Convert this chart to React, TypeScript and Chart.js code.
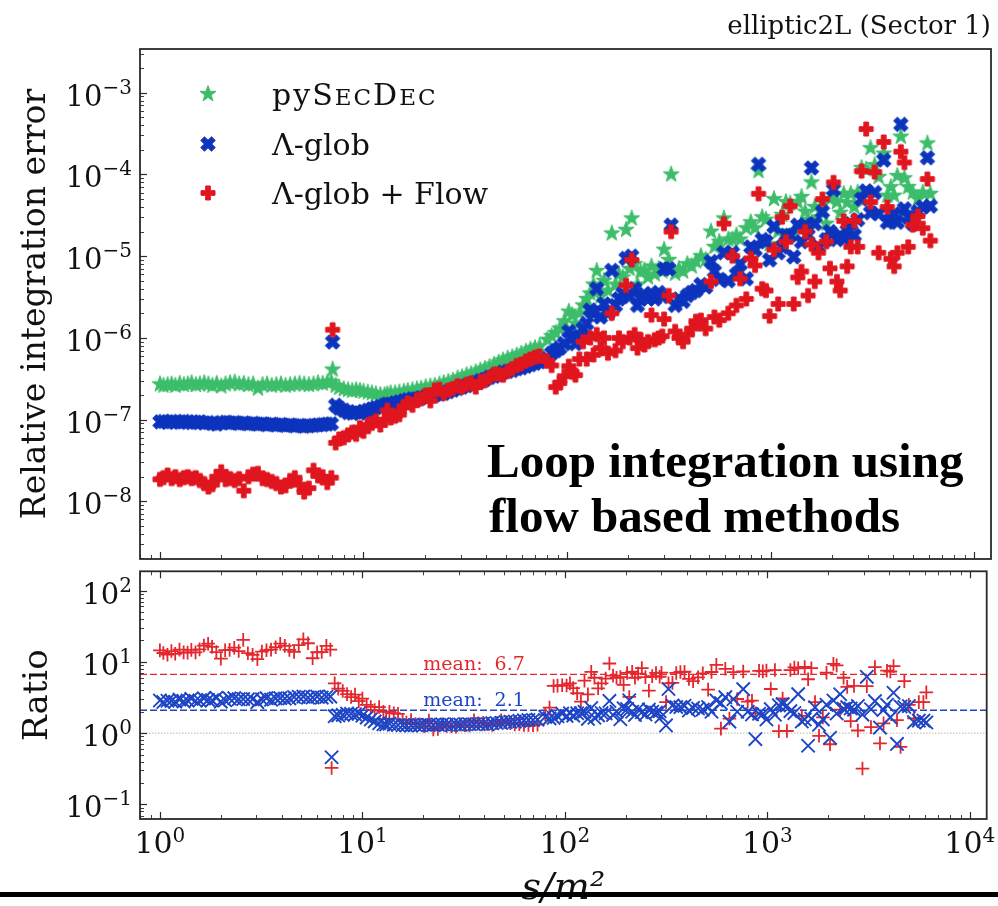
import React, { useEffect, useRef } from 'react';
import { Chart, registerables } from 'chart.js';

Chart.register(...registerables);

// Kinematic points s/m^2
const sValues = [
  1.00, 1.04, 1.09, 1.14, 1.19, 1.25, 1.31, 1.37, 1.43, 1.50, 1.57, 1.65, 1.73, 1.81, 1.90, 2.00, 2.10, 2.21, 2.33, 2.45,
  2.58, 2.72, 2.87, 3.03, 3.19, 3.36, 3.54, 3.73, 3.93, 4.14, 4.36, 4.60, 4.85, 5.11, 5.39, 5.68, 5.98, 6.30, 6.64, 6.95,
  7.05,
  7.30, 7.60, 8.00, 8.40, 8.80, 9.20, 9.60, 10.0, 10.5, 11.0, 11.5, 12.1, 12.7, 13.1, 13.6, 14.3, 15.0, 15.8,
  16.5, 17.4, 18.3, 19.2, 20.2, 21.3, 22.4, 23.6, 24.8, 26.1, 27.5, 29.0, 30.5, 32.1, 33.8, 35.6, 37.5, 39.5, 41.6, 43.8,
  46.1, 48.5, 51.1, 53.8, 56.6, 59.6, 62.8, 66.1, 69.6, 73.3,
  80, 84, 88, 92, 97, 102, 106, 110, 115, 120, 125, 130, 135, 140, 146, 152, 159, 166, 173, 180,
  188, 195, 203, 208, 215, 222, 230, 240, 250, 260, 270, 282, 294, 300, 316, 325,
  340, 355, 372, 390, 410, 430, 455, 480, 510, 530, 560, 590, 620, 650, 680, 710, 760, 800, 840, 873,
  910, 950, 990, 1040, 1090, 1140, 1190, 1250, 1300, 1360, 1420, 1480, 1530, 1590, 1650, 1720, 1800, 1880, 1960, 2040,
  2120, 2200, 2290, 2380, 2480, 2580, 2680, 2800, 2950, 3100, 3250, 3400, 3600, 3750, 3900, 4050, 4200, 4370, 4550, 4750,
  5000, 5300, 5600, 5900, 6100,
];

// Relative integration error, pySecDec
const errPySecDec = [
  2.70e-7, 2.60e-7, 2.65e-7, 2.70e-7, 2.60e-7, 2.75e-7, 2.65e-7, 2.70e-7, 2.80e-7, 2.65e-7, 2.70e-7, 2.80e-7, 2.70e-7, 2.60e-7, 2.75e-7, 2.55e-7, 2.70e-7, 2.80e-7, 2.85e-7, 2.70e-7,
  2.75e-7, 2.65e-7, 2.70e-7, 2.40e-7, 2.65e-7, 2.70e-7, 2.60e-7, 2.65e-7, 2.70e-7, 2.60e-7, 2.65e-7, 2.70e-7, 2.75e-7, 2.70e-7, 2.65e-7, 2.70e-7, 2.80e-7, 2.75e-7, 2.85e-7, 2.90e-7,
  4.1e-7,
  2.60e-7, 2.45e-7, 2.35e-7, 2.30e-7, 2.25e-7, 2.30e-7, 2.25e-7, 2.20e-7, 2.15e-7, 2.10e-7, 2.05e-7, 2.00e-7, 2.00e-7, 2.05e-7, 2.10e-7, 2.10e-7, 2.15e-7, 2.20e-7,
  2.25e-7, 2.30e-7, 2.35e-7, 2.40e-7, 2.50e-7, 2.55e-7, 2.60e-7, 2.70e-7, 2.80e-7, 2.90e-7, 3.00e-7, 3.20e-7, 3.30e-7, 3.50e-7, 3.60e-7, 3.80e-7, 4.00e-7, 4.20e-7, 4.40e-7, 4.70e-7,
  5.00e-7, 5.30e-7, 5.60e-7, 5.80e-7, 6.10e-7, 6.40e-7, 6.80e-7, 7.20e-7, 7.50e-7, 7.90e-7,
  9.5e-7, 1.05e-6, 1.15e-6, 1.3e-6, 1.6e-6, 2.1e-6, 1.9e-6, 1.5e-6, 2.0e-6, 2.5e-6, 3.0e-6, 3.5e-6, 4.5e-6, 6.6e-6, 3.2e-6, 5.0e-6, 3.8e-6, 1.9e-5, 4.5e-6, 6.0e-6,
  5.5e-6, 2.1e-5, 7.0e-6, 2.9e-5, 8.0e-6, 4.5e-6, 6.5e-6, 6.7e-6, 5.5e-6, 7.5e-6, 6.0e-6, 7.0e-6, 6.5e-6, 1.2e-5, 9.0e-6, 1.0e-4,
  6.1e-6, 7.0e-6, 6.5e-6, 8.0e-6, 7.5e-6, 8.6e-6, 1.0e-5, 9.0e-6, 2.0e-5, 1.3e-5, 1.5e-5, 2.9e-5, 1.6e-5, 1.6e-5, 1.8e-5, 1.6e-5, 2.2e-5, 2.6e-5, 2.2e-5, 1.1e-4,
  3.0e-5, 2.8e-5, 1.4e-5, 5.0e-5, 2.0e-5, 3.2e-5, 4.6e-5, 4.4e-5, 2.0e-5, 4.6e-5, 5.3e-5, 3.5e-5, 2.8e-5, 8.0e-5, 4.0e-5, 3.0e-5, 4.6e-5, 2.5e-5, 5.0e-5, 5.6e-5,
  4.6e-5, 3.4e-5, 5.8e-5, 4.5e-5, 5.8e-5, 4.0e-5, 6.0e-5, 1.2e-4, 1.15e-4, 2.1e-4, 1.3e-4, 9.3e-5, 1.8e-4, 5.5e-5, 7.0e-5, 5.5e-5, 9.6e-5, 2.9e-4, 9.0e-5, 7.0e-5,
  6.0e-5, 5.0e-5, 6.0e-5, 2.4e-4, 5.8e-5,
];

// Relative integration error, Λ-glob
const errGlob = [
  9.4e-8, 9.5e-8, 9.3e-8, 9.5e-8, 9.4e-8, 9.3e-8, 9.5e-8, 9.4e-8, 9.2e-8, 9.3e-8, 9.4e-8, 9.1e-8, 9.2e-8, 9.0e-8, 8.8e-8, 9.2e-8, 9.3e-8, 9.1e-8, 9.2e-8, 9.0e-8,
  9.1e-8, 8.9e-8, 9.0e-8, 8.8e-8, 8.9e-8, 8.7e-8, 8.8e-8, 8.6e-8, 8.7e-8, 8.5e-8, 8.6e-8, 8.4e-8, 8.5e-8, 8.3e-8, 8.4e-8, 8.5e-8, 8.6e-8, 8.7e-8, 8.8e-8, 8.9e-8,
  8.9e-7,
  1.50e-7, 1.38e-7, 1.30e-7, 1.22e-7, 1.20e-7, 1.25e-7, 1.20e-7, 1.25e-7, 1.30e-7, 1.35e-7, 1.40e-7, 1.45e-7, 1.50e-7, 1.55e-7, 1.55e-7, 1.60e-7, 1.65e-7, 1.70e-7,
  1.75e-7, 1.80e-7, 1.80e-7, 1.85e-7, 1.90e-7, 1.95e-7, 2.00e-7, 2.05e-7, 2.10e-7, 2.20e-7, 2.30e-7, 2.40e-7, 2.50e-7, 2.60e-7, 2.70e-7, 2.85e-7, 3.00e-7, 3.10e-7, 3.30e-7, 3.40e-7,
  3.60e-7, 3.80e-7, 3.90e-7, 4.00e-7, 4.20e-7, 4.30e-7, 4.50e-7, 4.70e-7, 4.90e-7, 5.10e-7,
  5.6e-7, 6.5e-7, 7.0e-7, 7.5e-7, 8.5e-7, 1.2e-6, 1.0e-6, 8.5e-7, 1.05e-6, 1.3e-6, 1.5e-6, 2.2e-6, 2.0e-6, 4.0e-6, 1.8e-6, 2.6e-6, 2.0e-6, 6.7e-6, 2.5e-6, 3.0e-6,
  3.5e-6, 9.4e-6, 3.2e-6, 1.0e-5, 4.0e-6, 2.5e-6, 3.0e-6, 3.4e-6, 3.0e-6, 3.5e-6, 3.0e-6, 3.6e-6, 3.2e-6, 7.0e-6, 7.0e-6, 2.4e-5,
  2.5e-6, 3.0e-6, 2.8e-6, 3.3e-6, 3.6e-6, 3.8e-6, 4.5e-6, 4.2e-6, 8.6e-6, 6.5e-6, 5.2e-6, 1.1e-5, 5.0e-6, 1.1e-5, 6.0e-6, 8.0e-6, 5.3e-6, 1.3e-5, 1.2e-5, 1.33e-4,
  1.6e-5, 1.5e-5, 9.0e-6, 2.3e-5, 1.1e-5, 1.3e-5, 1.8e-5, 1.8e-5, 9.8e-6, 2.4e-5, 1.5e-5, 2.4e-5, 1.8e-5, 1.2e-4, 2.5e-5, 1.3e-5, 3.5e-5, 1.6e-5, 2.0e-5, 6.5e-5,
  1.6e-5, 1.8e-5, 1.65e-5, 2.05e-5, 2.5e-5, 1.8e-5, 2.8e-5, 5.0e-5, 6.3e-5, 3.4e-5, 6.0e-5, 3.3e-5, 1.5e-4, 2.6e-5, 2.8e-5, 3.3e-5, 2.6e-5, 4.1e-4, 3.8e-5, 3.0e-5,
  2.5e-5, 3.5e-5, 4.0e-5, 1.6e-4, 4.1e-5,
];

// Relative integration error, Λ-glob + Flow
const errGlobFlow = [
  1.86e-8, 1.95e-8, 2.10e-8, 1.90e-8, 2.00e-8, 1.85e-8, 1.95e-8, 2.00e-8, 1.90e-8, 1.95e-8, 1.80e-8, 1.65e-8, 1.50e-8, 1.60e-8, 2.00e-8, 2.30e-8, 1.85e-8, 1.90e-8, 1.80e-8, 1.90e-8,
  1.35e-8, 2.00e-8, 2.15e-8, 2.20e-8, 1.90e-8, 1.85e-8, 1.75e-8, 1.65e-8, 1.50e-8, 1.55e-8, 1.80e-8, 1.95e-8, 1.60e-8, 1.30e-8, 1.45e-8, 2.40e-8, 2.05e-8, 2.00e-8, 1.70e-8, 1.95e-8,
  1.26e-6,
  5.2e-8, 5.8e-8, 6.0e-8, 6.5e-8, 7.0e-8, 6.6e-8, 8.0e-8, 7.2e-8, 8.6e-8, 9.0e-8, 9.7e-8, 8.6e-8, 1.00e-7, 1.30e-7, 1.05e-7, 1.10e-7, 1.15e-7, 1.45e-7,
  1.60e-7, 1.50e-7, 1.75e-7, 1.80e-7, 2.00e-7, 1.70e-7, 2.30e-7, 2.35e-7, 2.10e-7, 2.30e-7, 2.40e-7, 2.60e-7, 2.50e-7, 2.70e-7, 2.80e-7, 2.50e-7, 2.90e-7, 3.00e-7, 3.30e-7, 3.60e-7,
  3.60e-7, 3.50e-7, 3.90e-7, 4.20e-7, 4.60e-7, 4.80e-7, 5.20e-7, 5.50e-7, 5.80e-7, 6.00e-7,
  5.2e-7, 4.6e-7, 2.5e-7, 2.8e-7, 3.4e-7, 4.5e-7, 3.8e-7, 3.5e-7, 5.5e-7, 9.0e-7, 5.5e-7, 1.0e-6, 6.2e-7, 1.1e-6, 7.5e-7, 1.0e-6, 6.5e-7, 2.0e-6, 7.0e-7, 1.0e-6,
  9.0e-7, 4.4e-6, 1.0e-6, 9.0e-6, 1.1e-6, 7.5e-7, 9.5e-7, 8.2e-7, 9.0e-7, 1.9e-6, 9.5e-7, 1.0e-6, 1.05e-6, 1.7e-6, 3.3e-6, 2.0e-5,
  1.2e-6, 1.0e-6, 9.0e-7, 1.1e-6, 1.3e-6, 1.6e-6, 1.65e-6, 1.3e-6, 4.9e-6, 1.8e-6, 1.65e-6, 2.5e-5, 2.0e-6, 1.0e-5, 2.5e-6, 5.3e-6, 3.0e-6, 9.4e-6, 7.7e-6, 5.8e-5,
  4.0e-6, 3.8e-6, 1.85e-6, 1.2e-5, 2.6e-6, 3.0e-5, 1.5e-5, 4.1e-5, 2.6e-6, 5.5e-6, 6.5e-6, 2.0e-5, 3.3e-6, 1.4e-5, 4.9e-6, 1.1e-5, 5.0e-5, 1.5e-5, 7.1e-6, 8.0e-5,
  4.9e-6, 3.8e-6, 2.7e-5, 7.5e-6, 1.3e-5, 2.7e-5, 1.3e-5, 1.1e-4, 3.6e-4, 4.6e-5, 1.07e-4, 1.1e-5, 2.5e-4, 4.0e-5, 9.3e-6, 7.5e-6, 1.1e-5, 1.9e-4, 1.4e-4, 1.3e-5,
  2.4e-5, 3.1e-5, 2.2e-5, 8.8e-5, 1.55e-5,
];

// Decade tick labels (10^n)
const xTickExponents = [0, 1, 2, 3, 4];
const errTickExponents = [-8, -7, -6, -5, -4, -3];
const ratioTickExponents = [-1, 0, 1, 2];

// Mean ratios shown as reference lines
const meanRatioFlow = 6.7;
const meanRatioGlob = 2.1;

const X_MIN = 0.7976;
const X_MAX = 12118;
const ERR_MIN = 1.97e-9;
const ERR_MAX = 3.43e-3;
const RATIO_MIN = 0.0626;
const RATIO_MAX = 186.6;

const GREEN = '#3dbd6b';
const BLUE = '#0c34bd';
const RED = '#e0161f';
const RATIO_RED = '#e4262d';
const RATIO_BLUE = '#1d45c6';
const INK = '#111111';
const FRAME = '#2a2a2a';
const SERIF = "'DejaVu Serif', serif";

function markerCanvas(kind: 'star' | 'plus' | 'x', color: string): HTMLCanvasElement {
  const S = 24;
  const c = document.createElement('canvas');
  c.width = S;
  c.height = S;
  const g = c.getContext('2d') as CanvasRenderingContext2D;
  g.translate(S / 2, S / 2);
  g.beginPath();
  if (kind === 'star') {
    const R = 8.5;
    const r = R * 0.39;
    for (let i = 0; i < 10; i++) {
      const a = -Math.PI / 2 + (i * Math.PI) / 5;
      const rr = i % 2 === 0 ? R : r;
      const px = Math.cos(a) * rr;
      const py = Math.sin(a) * rr;
      if (i === 0) g.moveTo(px, py);
      else g.lineTo(px, py);
    }
  } else {
    if (kind === 'x') g.rotate(Math.PI / 4);
    const h = kind === 'x' ? 7.5 : 7.0;
    const w = h / 3;
    const pts = [[-w, -h], [w, -h], [w, -w], [h, -w], [h, w], [w, w], [w, h], [-w, h], [-w, w], [-h, w], [-h, -w], [-w, -w]];
    pts.forEach(([a, b], i) => (i ? g.lineTo(a, b) : g.moveTo(a, b)));
  }
  g.closePath();
  g.fillStyle = color;
  g.fill();
  g.strokeStyle = color;
  g.lineWidth = 1;
  g.lineJoin = 'miter';
  g.stroke();
  return c;
}

function drawPower(ctx: any, exp: number, x: number, y: number, align: 'right' | 'center',
  baseSize: number, expSize: number, baseDy: number, expDy: number) {
  const base = '10';
  const ex = exp < 0 ? '\u2212' + Math.abs(exp) : String(exp);
  ctx.font = `${baseSize}px ${SERIF}`;
  const wb = ctx.measureText(base).width;
  ctx.font = `${expSize}px ${SERIF}`;
  const we = ctx.measureText(ex).width;
  const x0 = align === 'right' ? x - wb - we : x - (wb + we) / 2;
  ctx.fillStyle = INK;
  ctx.textAlign = 'left';
  ctx.textBaseline = 'alphabetic';
  ctx.font = `${baseSize}px ${SERIF}`;
  ctx.fillText(base, x0, y + baseDy);
  ctx.font = `${expSize}px ${SERIF}`;
  ctx.fillText(ex, x0 + wb, y + expDy);
}

function drawFrameAndTicks(ctx: any, area: any, xs: any, ys: any, xTop: boolean) {
  ctx.save();
  ctx.strokeStyle = FRAME;
  for (let d = -1; d <= 4; d++) {
    for (let k = 1; k <= 9; k++) {
      const v = k * Math.pow(10, d);
      if (v < xs.min || v > xs.max) continue;
      const len = k === 1 ? 7 : 4;
      const px = Math.round(xs.getPixelForValue(v)) + 0.5;
      ctx.lineWidth = k === 1 ? 1.2 : 0.9;
      ctx.beginPath();
      ctx.moveTo(px, area.bottom);
      ctx.lineTo(px, area.bottom - len);
      if (xTop) {
        ctx.moveTo(px, area.top);
        ctx.lineTo(px, area.top + len);
      }
      ctx.stroke();
    }
  }
  const dLo = Math.floor(Math.log10(ys.min));
  const dHi = Math.ceil(Math.log10(ys.max));
  for (let d = dLo; d <= dHi; d++) {
    for (let k = 1; k <= 9; k++) {
      const v = k * Math.pow(10, d);
      if (v < ys.min || v > ys.max) continue;
      const len = k === 1 ? 7 : 4;
      const py = Math.round(ys.getPixelForValue(v)) + 0.5;
      ctx.lineWidth = k === 1 ? 1.2 : 0.9;
      ctx.beginPath();
      ctx.moveTo(area.left, py);
      ctx.lineTo(area.left + len, py);
      ctx.stroke();
    }
  }
  ctx.lineWidth = 1.8;
  ctx.strokeRect(area.left, area.top, area.right - area.left, area.bottom - area.top);
  ctx.restore();
}

function drawLegendLabel(ctx: any, text: string, x: number, y: number, size: number, smallCaps: boolean) {
  ctx.fillStyle = INK;
  ctx.textAlign = 'left';
  ctx.textBaseline = 'alphabetic';
  if (!smallCaps) {
    ctx.font = `${size}px ${SERIF}`;
    ctx.fillText(text, x, y);
    return;
  }
  let cx = x;
  let caps = false;
  for (const ch of text) {
    const isUpper = ch !== ch.toLowerCase();
    const isLower = ch !== ch.toUpperCase();
    let glyph = ch;
    let s = size;
    if (isUpper) caps = true;
    else if (isLower && caps) {
      glyph = ch.toUpperCase();
      s = Math.round(size * 0.77);
    } else if (!isLower) caps = false;
    ctx.font = `${s}px ${SERIF}`;
    ctx.fillText(glyph, cx, y);
    cx += ctx.measureText(glyph).width + 2;
  }
}

const errorPanelDecor = {
  id: 'errorPanelDecor',
  afterDatasetsDraw(chart: any) {
    const ctx = chart.ctx;
    const area = chart.chartArea;
    const xs = chart.scales.x;
    const ys = chart.scales.y;
    drawFrameAndTicks(ctx, area, xs, ys, false);
    errTickExponents.forEach((e) => {
      drawPower(ctx, e, area.left - 8, ys.getPixelForValue(Math.pow(10, e)), 'right', 29, 20, 13, 1);
    });

    // legend
    ctx.save();
    const rowY = [94, 144, 193];
    chart.data.datasets.forEach((ds: any, i: number) => {
      const img = ds.pointStyle as HTMLCanvasElement;
      const cy = rowY[i];
      ctx.drawImage(img, 208 - img.width / 2, cy - img.height / 2);
      drawLegendLabel(ctx, ds.label, 272, cy + 11, 30, !!ds.smallCapsLabel);
    });

    // headline
    ctx.fillStyle = '#000';
    ctx.font = "bold 49px 'Liberation Serif', serif";
    ctx.textAlign = 'left';
    ctx.textBaseline = 'alphabetic';
    ctx.fillText('Loop integration using', 487, 477);
    ctx.fillText('flow based methods', 489, 532);
    ctx.restore();
  },
};

const ratioPanelDecor = {
  id: 'ratioPanelDecor',
  afterDatasetsDraw(chart: any) {
    const ctx = chart.ctx;
    const area = chart.chartArea;
    const xs = chart.scales.x;
    const ys = chart.scales.y;
    drawFrameAndTicks(ctx, area, xs, ys, true);
    ratioTickExponents.forEach((e) => {
      drawPower(ctx, e, area.left - 8, ys.getPixelForValue(Math.pow(10, e)), 'right', 29, 20, 13, 1);
    });
    xTickExponents.forEach((e) => {
      drawPower(ctx, e, xs.getPixelForValue(Math.pow(10, e)), area.bottom, 'center', 30, 20, 34, 23);
    });
    ctx.save();
    ctx.font = `19px ${SERIF}`;
    ctx.textAlign = 'left';
    ctx.textBaseline = 'alphabetic';
    const lx = xs.getPixelForValue(20);
    ctx.fillStyle = RATIO_RED;
    ctx.fillText('mean:  ' + meanRatioFlow.toFixed(1), lx, ys.getPixelForValue(meanRatioFlow) - 4);
    ctx.fillStyle = RATIO_BLUE;
    ctx.fillText('mean:  ' + meanRatioGlob.toFixed(1), lx, ys.getPixelForValue(meanRatioGlob) - 4);
    ctx.restore();
  },
};

export default function App() {
  const errRef = useRef<HTMLCanvasElement>(null);
  const ratioRef = useRef<HTMLCanvasElement>(null);

  useEffect(() => {
    const starImg = markerCanvas('star', GREEN);
    const xImg = markerCanvas('x', BLUE);
    const plusImg = markerCanvas('plus', RED);

    const ptsPySecDec = sValues.map((s, i) => ({ x: s, y: errPySecDec[i] }));
    const ptsGlob = sValues.map((s, i) => ({ x: s, y: errGlob[i] }));
    const ptsFlow = sValues.map((s, i) => ({ x: s, y: errGlobFlow[i] }));
    const ratioGlob = sValues.map((s, i) => ({ x: s, y: errPySecDec[i] / errGlob[i] }));
    const ratioFlow = sValues.map((s, i) => ({ x: s, y: errPySecDec[i] / errGlobFlow[i] }));

    const errChart = new Chart(errRef.current as HTMLCanvasElement, {
      type: 'scatter',
      data: {
        datasets: [
          { label: 'pySecDec', smallCapsLabel: true, data: ptsPySecDec, pointStyle: starImg, pointRadius: 6, order: 3 } as any,
          { label: '\u039B-glob', data: ptsGlob, pointStyle: xImg, pointRadius: 6, order: 2 } as any,
          { label: '\u039B-glob + Flow', data: ptsFlow, pointStyle: plusImg, pointRadius: 6, order: 1 } as any,
        ],
      },
      options: {
        responsive: false,
        animation: false,
        devicePixelRatio: 1,
        events: [],
        layout: { padding: { left: 0, right: 6, top: 0, bottom: 3 } },
        scales: {
          x: { type: 'logarithmic', min: X_MIN, max: X_MAX, display: false },
          y: {
            type: 'logarithmic',
            min: ERR_MIN,
            max: ERR_MAX,
            grid: { display: false },
            border: { display: false },
            ticks: { display: false },
            title: {
              display: true,
              text: 'Relative integration error',
              color: INK,
              font: { family: SERIF, size: 33, weight: 'normal' },
              padding: { top: 17, bottom: 0 },
            },
            afterFit: (scale: any) => { scale.width = 140; },
          },
        },
        plugins: {
          legend: { display: false },
          tooltip: { enabled: false },
          title: {
            display: true,
            text: 'elliptic2L (Sector 1)',
            align: 'end',
            fullSize: false,
            color: INK,
            font: { family: SERIF, size: 26, weight: 'normal' },
            padding: { top: 12, bottom: 5.8 },
          },
        },
      } as any,
      plugins: [errorPanelDecor],
    });

    const ratioChart = new Chart(ratioRef.current as HTMLCanvasElement, {
      type: 'scatter',
      data: {
        datasets: [
          {
            label: 'mean Flow', data: [{ x: X_MIN, y: meanRatioFlow }, { x: X_MAX, y: meanRatioFlow }],
            showLine: true, borderColor: RATIO_RED, borderWidth: 1.3, borderDash: [7, 3], pointRadius: 0, order: 5,
          },
          {
            label: 'mean glob', data: [{ x: X_MIN, y: meanRatioGlob }, { x: X_MAX, y: meanRatioGlob }],
            showLine: true, borderColor: RATIO_BLUE, borderWidth: 1.3, borderDash: [7, 3], pointRadius: 0, order: 5,
          },
          {
            label: 'unity', data: [{ x: X_MIN, y: 1 }, { x: X_MAX, y: 1 }],
            showLine: true, borderColor: '#c4c4c4', borderWidth: 1.2, borderDash: [1.5, 1.5], pointRadius: 0, order: 6,
          },
          {
            label: '\u039B-glob + Flow', data: ratioFlow, pointStyle: 'cross', pointRadius: 6.8,
            pointBorderColor: RATIO_RED, pointBackgroundColor: RATIO_RED, pointBorderWidth: 1.8, order: 2,
          },
          {
            label: '\u039B-glob', data: ratioGlob, pointStyle: 'crossRot', pointRadius: 9.4,
            pointBorderColor: RATIO_BLUE, pointBackgroundColor: RATIO_BLUE, pointBorderWidth: 1.9, order: 1,
          },
        ],
      } as any,
      options: {
        responsive: false,
        animation: false,
        devicePixelRatio: 1,
        events: [],
        layout: { padding: { left: 0, right: 6, top: 3, bottom: 0 } },
        scales: {
          x: {
            type: 'logarithmic',
            min: X_MIN,
            max: X_MAX,
            grid: { display: false },
            border: { display: false },
            ticks: { display: false },
            title: {
              display: true,
              text: 's/m\u00B2',
              color: INK,
              font: { family: SERIF, size: 38, style: 'italic', weight: 'normal', lineHeight: 0.9 },
              padding: { top: 0, bottom: 0 },
            },
            afterFit: (scale: any) => { scale.height = 87; },
          },
          y: {
            type: 'logarithmic',
            min: RATIO_MIN,
            max: RATIO_MAX,
            grid: { display: false },
            border: { display: false },
            ticks: { display: false },
            title: {
              display: true,
              text: 'Ratio',
              color: INK,
              font: { family: SERIF, size: 34, weight: 'normal' },
              padding: { top: 18, bottom: 0 },
            },
            afterFit: (scale: any) => { scale.width = 140; },
          },
        },
        plugins: {
          legend: { display: false },
          tooltip: { enabled: false },
          title: { display: false },
        },
      } as any,
      plugins: [ratioPanelDecor],
    });

    return () => {
      errChart.destroy();
      ratioChart.destroy();
    };
  }, []);

  return (
    <div style={{ position: 'absolute', left: 0, top: 0, width: 998, height: 906, overflow: 'hidden', background: '#fff' }}>
      <canvas ref={errRef} width={998} height={566} style={{ position: 'absolute', left: 0, top: 0, width: 998, height: 566 }} />
      <canvas ref={ratioRef} width={998} height={346} style={{ position: 'absolute', left: 0, top: 560, width: 998, height: 346 }} />
      <div style={{ position: 'absolute', left: 0, top: 892, width: 998, height: 5, background: '#000' }} />
    </div>
  );
}
